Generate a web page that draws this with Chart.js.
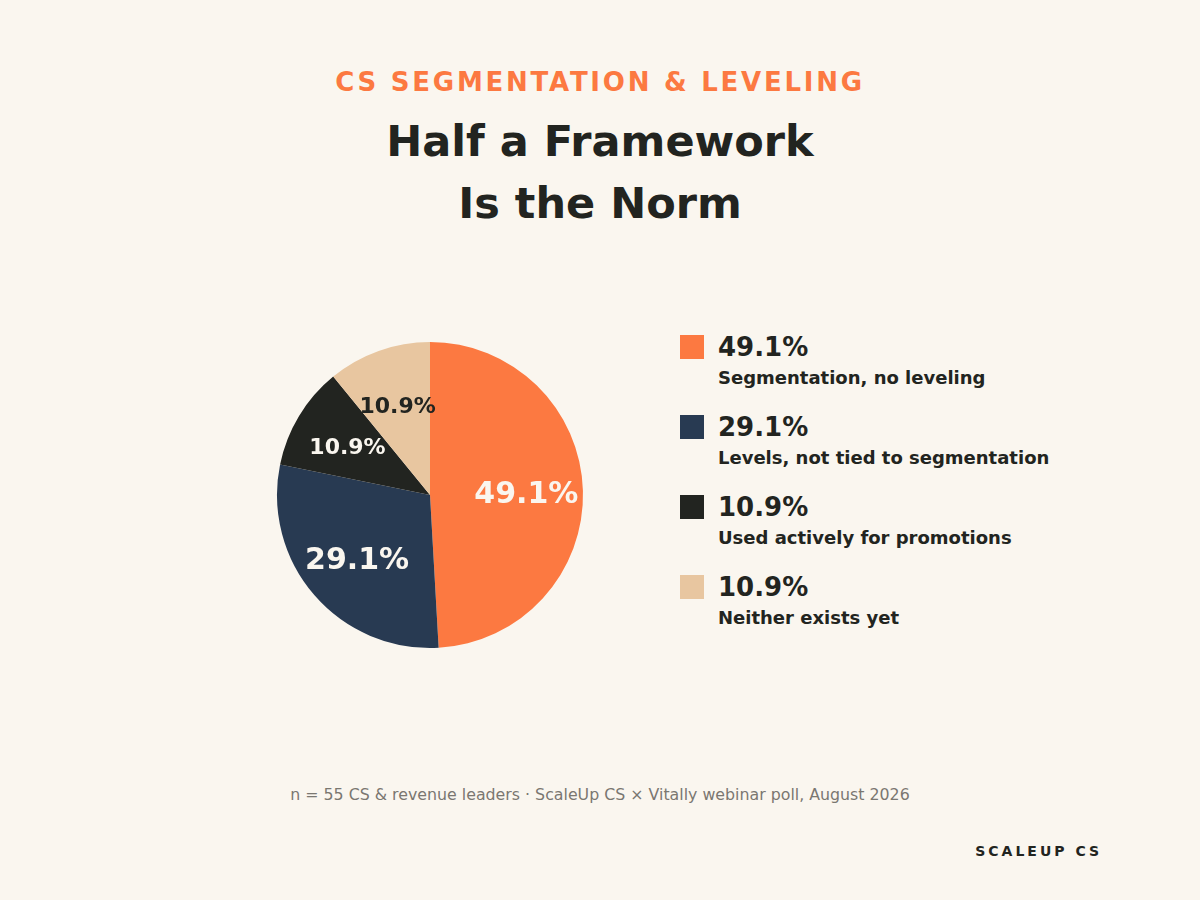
<!DOCTYPE html>
<html>
<head>
<meta charset="utf-8">
<script src="https://cdn.jsdelivr.net/npm/chart.js@4"></script>
<style>
  html, body { margin:0; padding:0; }
  body { width:1200px; height:900px; background:#FAF6EF; font-family:"DejaVu Sans", sans-serif; position:relative; overflow:hidden; color:#222420; }
  .eyebrow { position:absolute; left:0; width:1200px; top:64px; text-align:center; font-size:26px; font-weight:bold; letter-spacing:2.75px; color:#FC7941; line-height:36px; }
  .title { position:absolute; left:0; width:1200px; top:110px; text-align:center; font-size:43px; font-weight:bold; line-height:62px; color:#222420; }
  #pieWrap { position:absolute; left:270px; top:335px; width:320px; height:320px; }
  .legend { position:absolute; left:680px; top:335px; }
  .item { position:relative; height:80px; }
  .sw { position:absolute; left:0; top:0; width:24px; height:24px; }
  .pct { position:absolute; left:38px; top:-4px; font-size:26px; font-weight:bold; line-height:32px; white-space:nowrap; }
  .lab { position:absolute; left:38px; top:32px; font-size:18px; font-weight:bold; line-height:22px; white-space:nowrap; }
  .foot { position:absolute; left:0; width:1200px; top:785px; text-align:center; font-size:15.8px; color:#7A7771; line-height:20px; }
  .brand { position:absolute; right:98px; top:842px; font-size:14px; font-weight:bold; letter-spacing:3px; color:#222420; line-height:18px; }
</style>
</head>
<body>
<div class="eyebrow">CS SEGMENTATION &amp; LEVELING</div>
<div class="title">Half a Framework<br>Is the Norm</div>
<div id="pieWrap"><canvas id="pie"></canvas></div>
<div class="legend" id="legend"></div>
<div class="foot">n = 55 CS &amp; revenue leaders · ScaleUp CS × Vitally webinar poll, August 2026</div>
<div class="brand">SCALEUP CS</div>
<script>
const categories = ["Segmentation, no leveling", "Levels, not tied to segmentation", "Used actively for promotions", "Neither exists yet"];
const values = [49.1, 29.1, 10.9, 10.9];
const colors = ["#FC7941", "#283A52", "#222420", "#E8C6A0"];
const labelColors = ["#FAF6EF", "#FAF6EF", "#FAF6EF", "#222420"];
const labelSizes = [30, 30, 22, 22];

const legend = document.getElementById('legend');
categories.forEach((c, i) => {
  const d = document.createElement('div');
  d.className = 'item';
  d.innerHTML = '<div class="sw" style="background:' + colors[i] + '"></div><div class="pct">' + values[i].toFixed(1) + '%</div><div class="lab">' + c + '</div>';
  legend.appendChild(d);
});

const sliceLabels = {
  id: 'sliceLabels',
  afterDatasetsDraw(chart) {
    const ctx = chart.ctx;
    const meta = chart.getDatasetMeta(0);
    meta.data.forEach((arc, i) => {
      const mid = (arc.startAngle + arc.endAngle) / 2;
      const r = arc.outerRadius * 0.63;
      const x = arc.x + Math.cos(mid) * r;
      const y = arc.y + Math.sin(mid) * r + 3;
      ctx.save();
      ctx.font = 'bold ' + labelSizes[i] + 'px "DejaVu Sans", sans-serif';
      ctx.fillStyle = labelColors[i];
      ctx.textAlign = 'center';
      ctx.textBaseline = 'middle';
      ctx.fillText(values[i].toFixed(1) + '%', x, y);
      ctx.restore();
    });
  }
};

new Chart(document.getElementById('pie'), {
  type: 'pie',
  data: { labels: categories, datasets: [{ data: values, backgroundColor: colors, borderWidth: 0 }] },
  options: {
    responsive: true, maintainAspectRatio: false, animation: false,
    layout: { padding: 7 },
    plugins: { legend: { display: false }, tooltip: { enabled: false } }
  },
  plugins: [sliceLabels]
});
</script>
</body>
</html>
